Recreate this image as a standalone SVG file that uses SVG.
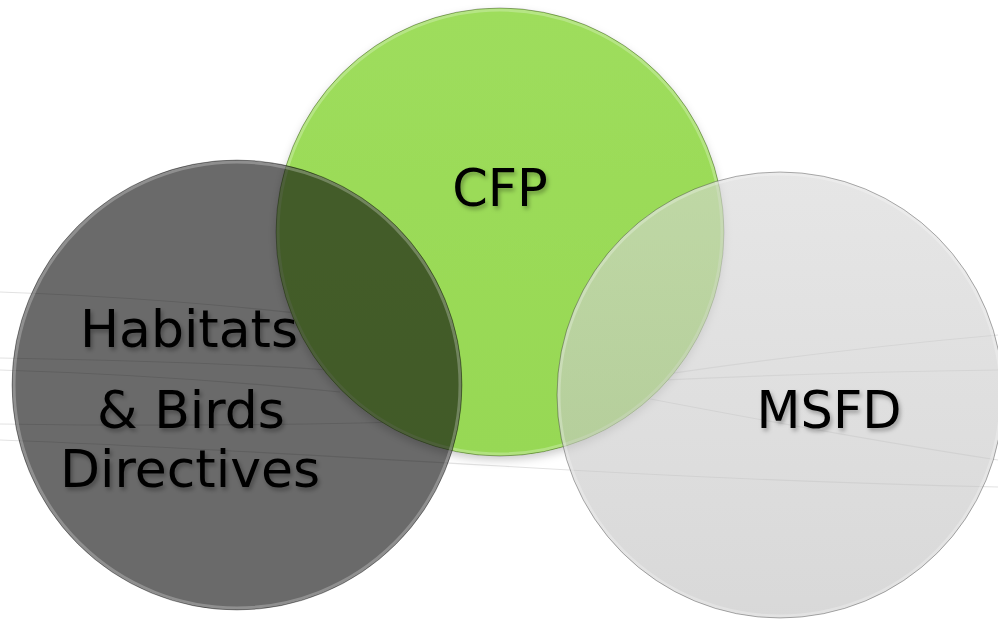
<svg xmlns="http://www.w3.org/2000/svg" width="998" height="620" viewBox="0 0 998 620">
  <defs>
    <style>
      .bg-line { fill: none; stroke: #e2e2e2; stroke-width: 1.2; }
      .label { font-family: "DejaVu Sans", Verdana, sans-serif; fill: #000; text-anchor: middle; filter: url(#textShadow); }
      .edge { fill: none; stroke: #000; stroke-opacity: 0.3; stroke-width: 1; }
      .bevel { fill: none; stroke: #fff; stroke-opacity: 0.25; stroke-width: 3; }
    </style>
    <filter id="textShadow" x="-20%" y="-30%" width="140%" height="170%">
      <feDropShadow dx="2" dy="3" stdDeviation="2" flood-color="#000" flood-opacity="0.3"/>
    </filter>
    <filter id="circleShadow" x="-10%" y="-10%" width="120%" height="125%">
      <feDropShadow dx="0" dy="4" stdDeviation="4" flood-color="#000" flood-opacity="0.2"/>
    </filter>
    <linearGradient id="greenGrad" x1="0" y1="0" x2="0" y2="1">
      <stop offset="0" stop-color="#9edd5c"/>
      <stop offset="1" stop-color="#97d854"/>
    </linearGradient>
    <linearGradient id="lightGrad" x1="0" y1="0" x2="0" y2="1">
      <stop offset="0" stop-color="#d6d6d6"/>
      <stop offset="1" stop-color="#c0c0c0"/>
    </linearGradient>
  </defs>

  <rect width="998" height="620" fill="#ffffff"/>

  <g id="background-lines">
    <path class="bg-line" d="M0 292 C120 296 240 306 320 316"/>
    <path class="bg-line" d="M0 358 C120 360 240 364 330 370"/>
    <path class="bg-line" d="M0 370 C130 374 260 384 340 392"/>
    <path class="bg-line" d="M0 424 C140 426 300 426 460 420"/>
    <path class="bg-line" d="M0 440 C160 446 330 456 500 466 C700 478 860 484 998 487"/>
    <path class="bg-line" d="M563 390 C700 368 850 348 998 335"/>
    <path class="bg-line" d="M567 385 C720 376 860 372 998 370"/>
    <path class="bg-line" d="M640 397 C760 420 880 442 998 460"/>
  </g>

  <g id="node-cfp">
    <circle cx="500" cy="232" r="224" fill="url(#greenGrad)" filter="url(#circleShadow)"/>
    <circle class="bevel" cx="500" cy="232" r="222"/>
    <circle class="edge" cx="500" cy="232" r="224"/>
    <text class="label" x="500" y="206" font-size="51">CFP</text>
  </g>

  <g id="node-habitats">
    <circle cx="237" cy="385" r="225" fill="#0b0b0b" fill-opacity="0.61"/>
    <circle class="bevel" cx="237" cy="385" r="223" stroke-opacity="0.1"/>
    <circle class="edge" cx="237" cy="385" r="225"/>
    <text class="label" x="189" y="347" font-size="52">Habitats</text>
    <text class="label" x="191" y="428" font-size="52">&amp; Birds</text>
    <text class="label" x="190" y="487" font-size="52">Directives</text>
  </g>

  <g id="node-msfd">
    <circle cx="780" cy="395" r="223" fill="url(#lightGrad)" fill-opacity="0.61"/>
    <circle class="bevel" cx="780" cy="395" r="221"/>
    <circle class="edge" cx="780" cy="395" r="223" stroke-opacity="0.18"/>
    <text class="label" x="829" y="428" font-size="51">MSFD</text>
  </g>

  <g id="connectors"/>
</svg>
